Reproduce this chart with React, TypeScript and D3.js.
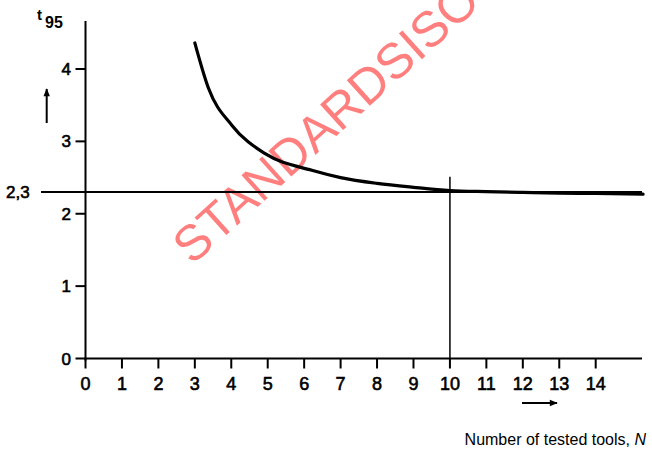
import React from "react";
import * as d3 from "d3";

const curveN = [3, 3.37, 4.02, 4.93, 6.21, 7, 8, 9, 10, 11, 12, 13, 14, 15.3];
const curveT = [4.36, 3.74, 3.22, 2.83, 2.6, 2.5, 2.42, 2.365, 2.32, 2.305, 2.295, 2.285, 2.28, 2.27];
const xTicks = [0, 1, 2, 3, 4, 5, 6, 7, 8, 9, 10, 11, 12, 13, 14];
const yTicks = [0, 1, 2, 3, 4];
const refValue = 2.3;
const refLabel = "2,3";
const markN = 10;
const markTop = 2.51;

const W = 652;
const H = 455;

export default function App() {
  const x = d3.scaleLinear().domain([0, 14]).range([85.5, 595.7]);
  const y = d3.scaleLinear().domain([0, 4]).range([358.5, 69]);
  const pts: [number, number][] = curveN.map((n, i) => [n, curveT[i]]);
  const line = d3
    .line<[number, number]>()
    .x((d) => x(d[0]))
    .y((d) => y(d[1]))
    .curve(d3.curveMonotoneX);
  const font = "'Liberation Sans', Arial, sans-serif";
  const xEnd = x(15.27);

  return (
    <svg
      width={W}
      height={H}
      style={{ position: "absolute", left: 0, top: 0, display: "block", background: "#fff" }}
      fontFamily={font}
    >
      <defs>
        <marker id="ah" viewBox="0 0 10 10" refX="9" refY="5" markerWidth="5" markerHeight="4" orient="auto" markerUnits="strokeWidth">
          <path d="M0,1 L10,5 L0,9 z" fill="#000" />
        </marker>
      </defs>
      {/* watermark */}
      <text
        x={0}
        y={0}
        fontSize={50}
        fill="#ff0000"
        fillOpacity={0.5}
        transform="translate(192,266) rotate(-42)"
      >
        STANDARDSISO
      </text>
      {/* axes */}
      <line x1={x(0)} x2={x(0)} y1={21} y2={y(0) + 2} stroke="#000" strokeWidth={2} />
      <line x1={x(0) - 1} x2={xEnd} y1={y(0)} y2={y(0)} stroke="#000" strokeWidth={2} />
      {/* x ticks */}
      {xTicks.map((t) => (
        <g key={"x" + t}>
          <line x1={x(t)} x2={x(t)} y1={y(0)} y2={y(0) + 10} stroke="#000" strokeWidth={2} />
          <text x={x(t)} y={390} textAnchor="middle" fontSize={18} fill="#000" stroke="#000" strokeWidth={0.6}>
            {t}
          </text>
        </g>
      ))}
      {/* y ticks */}
      {yTicks.map((t) => (
        <g key={"y" + t}>
          <line x1={x(0) - 10} x2={x(0)} y1={y(t)} y2={y(t)} stroke="#000" strokeWidth={2} />
          <text x={71} y={y(t) + 6} textAnchor="end" fontSize={17} fill="#000" stroke="#000" strokeWidth={0.6}>
            {t}
          </text>
        </g>
      ))}
      {/* reference line 2,3 */}
      <line x1={41} x2={xEnd} y1={y(refValue)} y2={y(refValue)} stroke="#000" strokeWidth={2} />
      <text x={6} y={y(refValue) + 6} fontSize={17} fill="#000" stroke="#000" strokeWidth={0.6}>
        {refLabel}
      </text>
      {/* vertical marker at N=10 */}
      <line x1={x(markN)} x2={x(markN)} y1={y(markTop)} y2={y(0)} stroke="#000" strokeWidth={1.5} />
      {/* curve */}
      <path d={line(pts) || ""} fill="none" stroke="#000" strokeWidth={3.2} strokeLinecap="round" />
      {/* y label */}
      <text x={37} y={20} fontSize={15} fill="#000" fontWeight="bold">t</text>
      <text x={45} y={28} fontSize={16} fill="#000" fontWeight="bold">95</text>
      <line x1={46.7} x2={46.7} y1={123} y2={89} stroke="#000" strokeWidth={2} markerEnd="url(#ah)" />
      {/* x arrow */}
      <line x1={522} x2={557} y1={403} y2={403} stroke="#000" strokeWidth={2} markerEnd="url(#ah)" />
      {/* x title */}
      <text x={646} y={445} textAnchor="end" fontSize={16} fill="#000">
        Number of tested tools, <tspan fontStyle="italic">N</tspan>
      </text>
    </svg>
  );
}
